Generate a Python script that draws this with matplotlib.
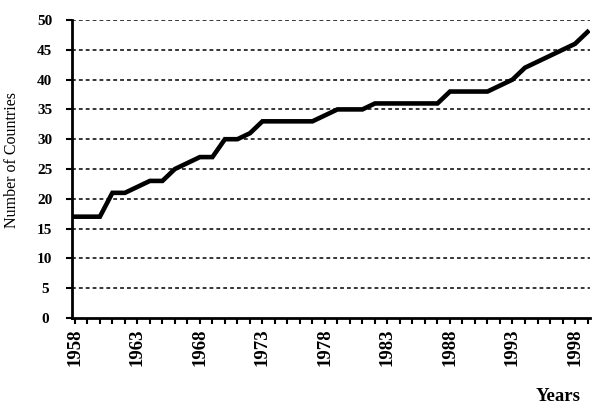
import matplotlib
matplotlib.use("Agg")
import matplotlib.pyplot as plt

plt.rcParams['font.family'] = ['Liberation Serif', 'DejaVu Serif']

# number of countries per year
years = list(range(1958, 2000))
countries = [17, 17, 17, 21, 21, 22, 23, 23, 25, 26, 27, 27, 30, 30, 31,
             33, 33, 33, 33, 33, 34, 35, 35, 35, 36, 36, 36, 36, 36, 36,
             38, 38, 38, 38, 39, 40, 42, 43, 44, 45, 46, 48]
year_labels = list(range(1958, 1999, 5))
y_ticks = list(range(0, 51, 5))

fig = plt.figure(figsize=(5.99, 4.11), dpi=100)
ax = fig.add_axes([0.120, 0.2263, 0.865, 0.725])

for yv in y_ticks[1:]:
    ax.axhline(yv, color='black', linestyle=(0, (2.5, 2)), linewidth=1.1, zorder=1)

ax.plot(years, countries, color='black', linewidth=3.3, solid_joinstyle='miter', zorder=3)

ax.set_xlim(1957.76, 1999.2)
ax.set_ylim(0, 50)

ax.set_yticks(y_ticks)
ax.set_yticklabels([str(v) for v in y_ticks], fontsize=11, fontweight='bold')
for lbl in ax.get_yticklabels():
    lbl.set_horizontalalignment('center')
ax.set_xticks(years)
ax.set_xticklabels([str(y) if y in year_labels else '' for y in years],
                   rotation=90, fontsize=13.5, fontweight='bold')

ax.tick_params(axis='both', direction='out', length=4.5, width=1.5, color='black')
ax.tick_params(axis='x', pad=3)
ax.tick_params(axis='y', pad=15)

for side in ['top', 'right']:
    ax.spines[side].set_visible(False)
for side in ['left', 'bottom']:
    ax.spines[side].set_linewidth(2.0)

ax.set_ylabel('Number of Countries', fontsize=11.5)
ax.yaxis.set_label_coords(-0.1, 0.53)
fig.text(0.932, 0.035, 'Years', fontsize=13.5, fontweight='bold', ha='center', va='center')

fig.savefig('out.png', dpi=100)
